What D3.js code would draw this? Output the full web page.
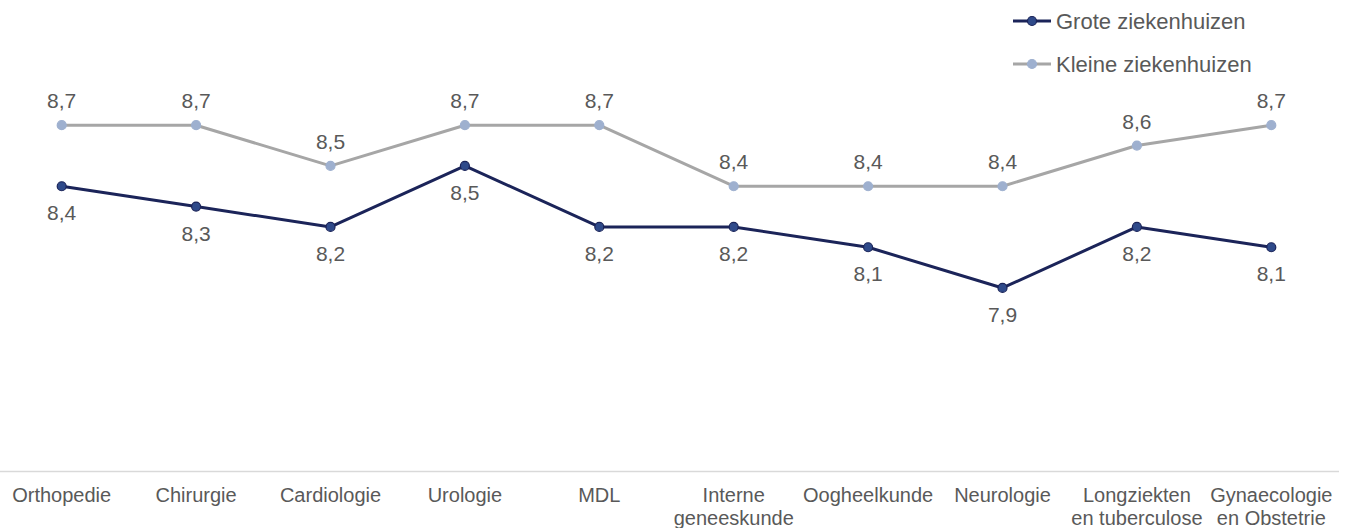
<!DOCTYPE html>
<html>
<head>
<meta charset="utf-8">
<script src="https://cdn.jsdelivr.net/npm/d3@7"></script>
<style>
  html, body { margin: 0; padding: 0; background: #ffffff; }
  svg { display: block; font-family: "Liberation Sans", Arial, sans-serif; }
</style>
</head>
<body>
<svg id="chart" width="1349" height="528"></svg>
<script>
// Categories (specialisms); multi-line labels split on "|"
const categories = [
  "Orthopedie", "Chirurgie", "Cardiologie", "Urologie", "MDL",
  "Interne|geneeskunde", "Oogheelkunde", "Neurologie",
  "Longziekten|en tuberculose", "Gynaecologie|en Obstetrie"
];
const groteValues  = [8.4, 8.3, 8.2, 8.5, 8.2, 8.2, 8.1, 7.9, 8.2, 8.1];
const kleineValues = [8.7, 8.7, 8.5, 8.7, 8.7, 8.4, 8.4, 8.4, 8.6, 8.7];
const seriesNames  = ["Grote ziekenhuizen", "Kleine ziekenhuizen"];
const yDomain = [7.0, 9.0];

const series = [
  { name: seriesNames[0], values: groteValues,  line: "#1b2459", fill: "#2f4a8a", stroke: "#1b2459", labelPos: "below" },
  { name: seriesNames[1], values: kleineValues, line: "#a6a6a6", fill: "#9eb0cf", stroke: "#9eb0cf", labelPos: "above" }
];

const svg = d3.select("#chart");
const textColor = "#595959";
const fmt = v => d3.format(".1f")(v).replace(".", ",");

const x = d3.scaleBand().domain(categories).range([-5.5, 1338.5]).padding(0);
const y = d3.scaleLinear().domain(yDomain).range([471, 64.2]);
const cx = c => x(c) + x.bandwidth() / 2;

// Category axis (baseline only, no ticks)
const xAxis = d3.axisBottom(x).tickSize(0).tickPadding(0).tickFormat("");
const gx = svg.append("g").attr("transform", `translate(0,${y(yDomain[0])})`).call(xAxis);
gx.select(".domain").attr("stroke", "#d9d9d9").attr("stroke-width", 1.3);

gx.selectAll(".tick").each(function(d) {
  const lines = d.split("|");
  const t = d3.select(this).append("text")
    .attr("fill", textColor)
    .attr("font-size", 20)
    .attr("text-anchor", "middle");
  lines.forEach((ln, i) => {
    t.append("tspan").attr("x", 0).attr("y", 31 + i * 22.5).text(ln);
  });
});

// Lines, markers and value labels
const line = d3.line().x((v, i) => cx(categories[i])).y(v => y(v));

series.forEach(s => {
  const g = svg.append("g");
  g.append("path")
    .datum(s.values)
    .attr("d", line)
    .attr("fill", "none")
    .attr("stroke", s.line)
    .attr("stroke-width", 3)
    .attr("stroke-linejoin", "round");
  g.selectAll("circle")
    .data(s.values)
    .join("circle")
    .attr("cx", (v, i) => cx(categories[i]))
    .attr("cy", v => y(v))
    .attr("r", 4.5)
    .attr("fill", s.fill)
    .attr("stroke", s.stroke)
    .attr("stroke-width", 1.2);
  g.selectAll("text.val")
    .data(s.values)
    .join("text")
    .attr("class", "val")
    .attr("x", (v, i) => cx(categories[i]))
    .attr("y", v => s.labelPos === "above" ? y(v) - 17 : y(v) + 34)
    .attr("text-anchor", "middle")
    .attr("font-size", 21)
    .attr("fill", textColor)
    .text(v => fmt(v));
});

// Legend
const legend = svg.append("g");
series.forEach((s, i) => {
  const ly = 21 + i * 43;
  const lg = legend.append("g").attr("transform", `translate(1013,${ly})`);
  lg.append("line").attr("x1", 0).attr("x2", 38).attr("y1", 0).attr("y2", 0)
    .attr("stroke", s.line).attr("stroke-width", 3);
  lg.append("circle").attr("cx", 19).attr("cy", 0).attr("r", 4.5)
    .attr("fill", s.fill).attr("stroke", s.stroke).attr("stroke-width", 1.2);
  lg.append("text").attr("x", 43).attr("y", 8)
    .attr("font-size", 22).attr("fill", textColor).text(s.name);
});
</script>
</body>
</html>
